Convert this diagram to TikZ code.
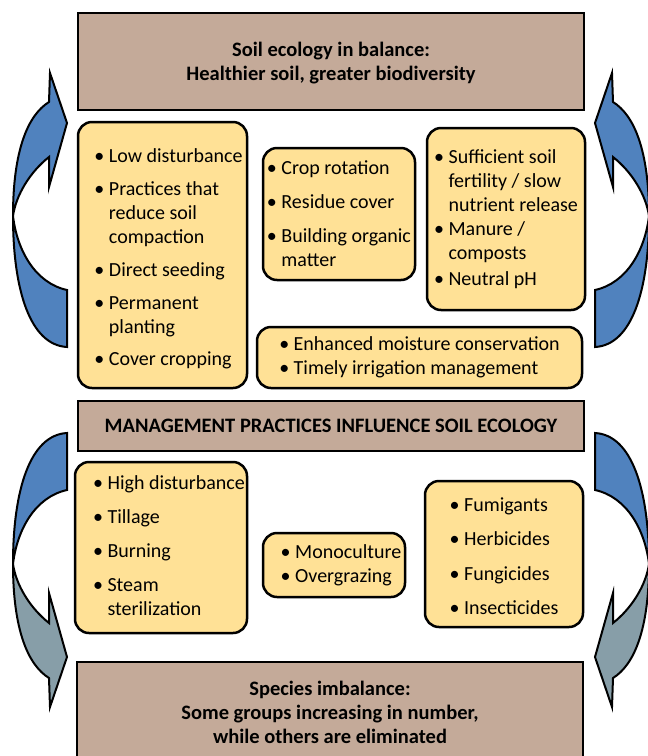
\documentclass[tikz,border=0pt]{standalone}
\usepackage{fontspec}
\setmainfont{Carlito}
\usepackage{xcolor}

\definecolor{soilbrown}{RGB}{196,170,153}
\definecolor{itemyellow}{RGB}{255,225,150}
\definecolor{arrowblue}{RGB}{80,130,190}
\definecolor{arrowgrey}{RGB}{135,158,168}

\tikzset{
    headbox/.style={draw, line width=2.5pt, fill=soilbrown},
    itembox/.style={draw, line width=2.5pt, fill=itemyellow, rounded corners=14pt},
    headtext/.style={font=\fontsize{20.5}{24}\selectfont\bfseries, align=center, inner sep=0pt},
    itemtext/.style={font=\fontsize{20}{24}\selectfont, align=left, inner sep=0pt},
    bluepart/.style={draw, line width=2pt, fill=arrowblue},
    greypart/.style={draw, line width=2pt, fill=arrowgrey}
}

\newcommand{\bul}{\textbullet\ }
\newcommand{\ind}{\hphantom{\textbullet\ }}
% curved arrow, drawn in two halves that meet at the waist
\newcommand{\curvetail}[1]{\draw[#1] (67,347) .. controls (30,345) and (13,290) .. (13,216) .. controls (17,250) and (35,283) .. (67,290) -- cycle;}
\newcommand{\curvehead}[1]{\draw[#1] (13,216) .. controls (13,150) and (28,115) .. (49,102) -- (50,73) -- (67,123) -- (49,187) -- (49,157) .. controls (30,172) and (16,195) .. (13,216) -- cycle;}

\begin{document}
\begin{tikzpicture}[x=1pt, y=-1pt]
    \useasboundingbox (0,0) rectangle (648,756);

    \draw[headbox] (78,13) rectangle (584,110) node[midway, headtext, yshift=-2pt] (balance) {Soil ecology in balance:\\Healthier soil, greater biodiversity};

    \draw[itembox] (78,122) rectangle (247,388) node[midway, itemtext, xshift=6pt, yshift=-4pt] (lowdist) {\bul Low disturbance\\[9pt]\bul Practices that\\\ind reduce soil\\\ind compaction\\[9pt]\bul Direct seeding\\[9pt]\bul Permanent\\\ind planting\\[8pt]\bul Cover cropping};

    \draw[itembox] (263,148) rectangle (415,280) node[midway, itemtext] (rotation) {\bul Crop rotation\\[10pt]\bul Residue cover\\[10pt]\bul Building organic\\\ind matter};

    \draw[itembox] (427,128) rectangle (585,310) node[midway, itemtext] (fertility) {\bul Sufficient soil\\\ind fertility / slow\\\ind nutrient release\\\bul Manure /\\\ind composts\\[2pt]\bul Neutral pH};

    \draw[itembox] (257,327) rectangle (582,388) node[midway, itemtext] (moisture) {\bul Enhanced moisture conservation\\\bul Timely irrigation management};

    \draw[headbox] (78,401) rectangle (584,451) node[midway, headtext] (practices) {MANAGEMENT PRACTICES INFLUENCE SOIL ECOLOGY};

    \draw[itembox] (75,462) rectangle (247,633) node[midway, itemtext, xshift=8pt, yshift=2pt] (highdist) {\bul High disturbance\\[10pt]\bul Tillage\\[10pt]\bul Burning\\[10pt]\bul Steam\\\ind sterilization};

    \draw[itembox] (263,533) rectangle (405,597) node[midway, itemtext, xshift=7pt] (mono) {\bul Monoculture\\\bul Overgrazing};

    \draw[itembox] (425,481) rectangle (583,627) node[midway, itemtext, yshift=-2pt] (chemicals) {\bul Fumigants\\[10.5pt]\bul Herbicides\\[10.5pt]\bul Fungicides\\[10.5pt]\bul Insecticides};

    \draw[headbox] (77,662) rectangle (583,780);
    \node[headtext] (imbalance) at (330,712) {Species imbalance:\\Some groups increasing in number,\\while others are eliminated};

    % arrows on both sides
    \curvetail{bluepart} \curvehead{bluepart}
    \begin{scope}[xshift=662pt, xscale=-1]
        \curvetail{bluepart} \curvehead{bluepart}
    \end{scope}
    \begin{scope}[yshift=-780pt, yscale=-1]
        \curvetail{bluepart} \curvehead{greypart}
    \end{scope}
    \begin{scope}[xshift=662pt, yshift=-780pt, xscale=-1, yscale=-1]
        \curvetail{bluepart} \curvehead{greypart}
    \end{scope}
\end{tikzpicture}
\end{document}
